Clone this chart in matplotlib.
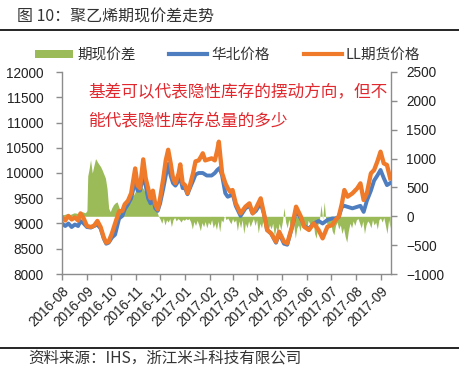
import matplotlib
matplotlib.use("Agg")
import matplotlib.pyplot as plt
import matplotlib.dates as mdates
from matplotlib.patches import Patch
from matplotlib.lines import Line2D
import pandas as pd
import numpy as np

plt.rcParams['font.family'] = ['Noto Sans CJK SC', 'DejaVu Sans']

start_date = "2016-08-01"
end_day = 409

# LL futures price (primary axis): day offset from start, value
ll_days = [0, 4, 8, 12, 16, 20, 23, 27, 31, 36, 40, 44, 48, 52, 55, 58, 62, 66, 71, 75,
           78, 82, 86, 91, 94, 97, 101, 104, 107, 110, 113, 116, 119, 122, 126, 129, 132,
           135, 138, 141, 145, 147, 150, 153, 156, 159, 163, 166, 170, 173, 175, 178, 182,
           186, 190, 193, 195, 197, 199, 203, 206, 209, 212, 216, 222, 228, 233, 237, 241,
           247, 251, 255, 260, 266, 270, 276, 280, 286, 291, 297, 301, 307, 313, 319, 324,
           330, 336, 340, 344, 348, 351, 355, 361, 367, 371, 375, 379, 384, 388, 392, 396,
           400, 404, 408]
ll_vals = [9130, 9060, 9150, 9080, 9120, 9060, 9200, 9100, 8950, 8930, 8960, 9050, 8930,
           8720, 8620, 8640, 8800, 9000, 9240, 9250, 9380, 9450, 9600, 10090, 9750, 9700,
           10270, 9900, 9700, 9500, 9650, 9380, 9280, 9500, 9900, 10250, 10460, 10200, 9900,
           9800, 9990, 10170, 9800, 9760, 9600, 9750, 10000, 10230, 10250, 10330, 10390,
           10250, 10270, 10290, 10250, 10450, 10620, 10300, 10000, 9800, 9700, 9630, 9663,
           9399, 9201, 9333, 9399, 9201, 9300, 9498, 9201, 8871, 8805, 8640, 8838, 8640,
           8607, 8937, 9333, 9135, 8937, 8871, 9003, 8871, 8706, 8937, 8970, 9069, 9135,
           9399, 9663, 9531, 9597, 9696, 9795, 9465, 9597, 9993, 10059, 10224, 10422,
           10191, 10158, 9894]

# North China spot price (primary axis)
hb_days = [0, 4, 8, 12, 16, 20, 23, 27, 31, 36, 40, 44, 48, 52, 55, 58, 62, 66, 71, 75,
           78, 82, 86, 91, 94, 97, 101, 104, 107, 110, 113, 116, 119, 122, 126, 129, 132,
           135, 138, 141, 145, 147, 150, 153, 156, 159, 163, 166, 170, 175, 180, 186, 190,
           193, 196, 199, 203, 206, 209, 212, 216, 222, 228, 233, 237, 241, 247, 251, 255,
           260, 266, 270, 276, 280, 286, 291, 297, 301, 307, 313, 319, 324, 330, 336, 340,
           344, 348, 351, 355, 361, 367, 371, 375, 379, 384, 388, 392, 396, 400, 404, 408]
hb_vals = [9000, 8950, 9000, 8930, 8980, 8950, 9050, 9000, 8930, 8920, 8950, 8980, 8900,
           8700, 8600, 8620, 8720, 8780, 9100, 9150, 9280, 9380, 9500, 9850, 9650, 9650,
           9950, 9750, 9500, 9400, 9500, 9300, 9250, 9400, 9700, 9950, 10180, 9950, 9800,
           9750, 9850, 9900, 9700, 9700, 9580, 9700, 9850, 9970, 10000, 10000, 9950, 9950,
           10000, 10060, 10100, 9950, 9600, 9530, 9550, 9600, 9350, 9150, 9300, 9350, 9200,
           9250, 9400, 9200, 8870, 8800, 8620, 8800, 8600, 8580, 8930, 9250, 9100, 8950,
           8900, 9000, 9050, 9000, 9070, 9100, 9100, 9130, 9330, 9350, 9330, 9300, 9330,
           9350, 9230, 9450, 9650, 9850, 9950, 10060, 9900, 9760, 9800]

# Basis (secondary axis)
bs_days = [0, 5, 10, 15, 20, 25, 29, 31, 32, 33.4, 35.5, 37.6, 40, 41.7, 45, 48, 50, 54,
           56, 58, 60, 62, 64, 66, 68.5, 72, 75, 77, 80, 83, 86, 89, 93, 97, 101, 105, 109,
           113, 116, 118, 120] + list(range(122, 410, 2))
bs_vals = [20, 40, 30, 60, 50, 80, 60, 100, 700, 800, 980, 750, 900, 1000, 920, 860, 800,
           660, 480, 140, 80, 150, 200, 230, 250, 110, 180, 150, 250, 310, 340, 370, 480,
           540, 480, 370, 310, 200, 130, 80, 0,
           -50, -120, -30, -150, -60, -100, -40, -180, -60, -20, -80, -40, -60, -100, -50,
           -70, -40, -60, -40, -100, -220, -90, -160, -70, -150, -250, -110, -180, -90,
           -200, -100, -150, -60, -200, -120, -230, -80, -270, -60, -100, 20, -60, -30,
           -80, -130, -40, -100, -60, -250, -80, -200, -60, -300, -120, -200, -80, -180,
           -100, -40, -160, -60, -290, -120, -200, -50, -120, -70, -300, -150, -220, -120,
           -350, -180, -280, -120, -240, -90, 150, -100, -200, -50, -180, -240, -120, -380,
           -200, -150, -260, -90, -200, -120, -220, -70, -130, -180, -60, -300, -380, -150,
           -60, 200, -50, 250, -80, -150, -200, -120, -260, -320, -160, -100, -220, -150,
           -300, -200, -350, -450, -250, -120, -200, -80, -160, -60, -40, -120, -200, -80,
           -300, -150, -80, -120, -200, -60, -150, -100, -220, -60, -30, -100, -20, -150,
           -300, -60, -200]

left_ticks = [8000, 8500, 9000, 9500, 10000, 10500, 11000, 11500, 12000]
right_ticks = [-1000, -500, 0, 500, 1000, 1500, 2000, 2500]

legend_labels = ["期现价差", "华北价格", "LL期货价格"]
title_text = "图 10：聚乙烯期现价差走势"
note_lines = ["基差可以代表隐性库存的摆动方向，但不", "能代表隐性库存总量的多少"]
source_text = "资料来源：IHS，浙江米斗科技有限公司"

GREEN = "#9BBB59"
BLUE = "#4F7EC0"
ORANGE = "#EE7A2A"

t0 = pd.Timestamp(start_date)
def to_dates(days):
    return t0 + pd.to_timedelta(np.array(days, dtype=float), unit="D")

fig = plt.figure(figsize=(4.59, 3.72), dpi=100)
ax = fig.add_axes([62/459, 1-274/372, (391-62)/459, (274-72)/372])
ax2 = ax.twinx()

ax2.fill_between(to_dates(bs_days), 0, bs_vals, color=GREEN, linewidth=0)
ax.plot(to_dates(hb_days), hb_vals, color=BLUE, lw=2.8)
ax.plot(to_dates(ll_days), ll_vals, color=ORANGE, lw=3.1)

ax.set_zorder(ax2.get_zorder() + 1)
ax.patch.set_visible(False)

ax.set_xlim(t0, t0 + pd.Timedelta(days=end_day))
ax.set_ylim(8000, 12000)
ax2.set_ylim(-1000, 2500)
ax.set_yticks(left_ticks)
ax2.set_yticks(right_ticks)

ax.xaxis.set_major_locator(mdates.MonthLocator())
ax.xaxis.set_major_formatter(mdates.DateFormatter("%Y-%m"))

spine_c = "#8C8C8C"
for a in (ax, ax2):
    a.spines["top"].set_visible(False)
    for s in a.spines.values():
        s.set_color(spine_c)
        s.set_linewidth(1.0)
ax.spines["right"].set_visible(False)
ax2.spines["left"].set_visible(False)
ax2.spines["bottom"].set_visible(False)

tick_family = ["Liberation Sans", "DejaVu Sans"]
ax.tick_params(axis="y", colors=spine_c, length=4, width=1.0, labelcolor="#222222", pad=9)
ax.tick_params(axis="x", colors=spine_c, length=4, width=1.0, labelcolor="#222222", pad=3)
ax2.tick_params(axis="y", colors=spine_c, length=4, width=1.0, labelcolor="#222222", pad=7)
for lbl in ax.get_yticklabels() + ax2.get_yticklabels():
    lbl.set_fontfamily(tick_family)
    lbl.set_fontsize(9.8)
for lbl in ax.get_xticklabels():
    lbl.set_fontfamily(tick_family)
    lbl.set_fontsize(9.8)
    lbl.set_rotation(45)
    lbl.set_ha("right")
    lbl.set_rotation_mode("anchor")

# legend
handles = [Patch(facecolor=GREEN, edgecolor="none"),
           Line2D([0], [0], color=BLUE, lw=3),
           Line2D([0], [0], color=ORANGE, lw=3)]
fig.legend(handles, legend_labels, loc="center", bbox_to_anchor=(0.496, 0.852),
           ncol=3, frameon=False, fontsize=10.5, handlelength=2.6, handleheight=0.45,
           handletextpad=0.3, columnspacing=2.3, labelcolor="#333333")

# title, rules and source
fig.text(17/459, 1-17/372, title_text, fontsize=11.5, color="#333333", va="center", ha="left")
fig.add_artist(Line2D([0, 1], [1-30/372, 1-30/372], color="black", lw=1.2))
fig.add_artist(Line2D([0, 1], [1-348/372, 1-348/372], color="black", lw=1.2))
fig.text(28/459, 1-358/372, source_text, fontsize=11.2, color="#333333", va="center", ha="left")

# annotation
fig.text(88/459, 1-93/372, note_lines[0], fontsize=12, color="#E0282E", va="center", ha="left")
fig.text(88/459, 1-122/372, note_lines[1], fontsize=12, color="#E0282E", va="center", ha="left")

fig.savefig("out.png", dpi=100)
